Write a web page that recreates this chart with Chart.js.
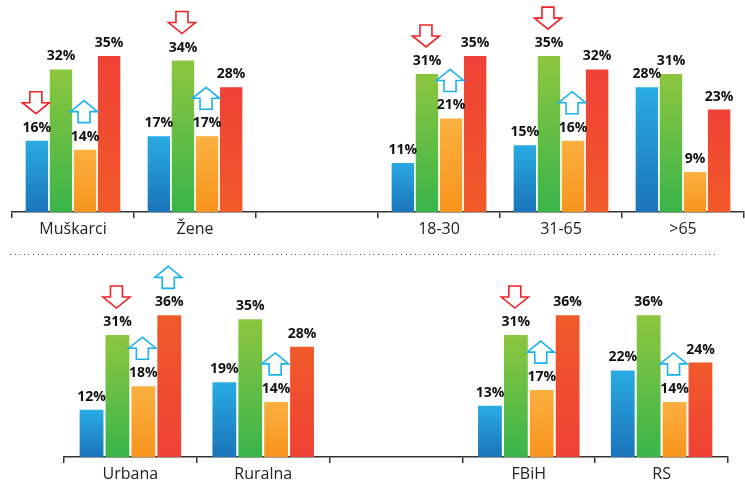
<!DOCTYPE html>
<html>
<head>
<meta charset="utf-8">
<script src="https://cdn.jsdelivr.net/npm/chart.js@4"></script>
<style>
  body { margin: 0; background: #fff; }
  #wrap { position: relative; width: 745px; height: 487px; }
  .panel { position: absolute; left: 0; width: 745px; }
  #topPanel { top: 0; height: 240px; }
  #bottomPanel { top: 254px; height: 233px; }
  #sep {
    position: absolute; left: 10px; top: 254px; width: 706px; height: 1px;
    background: repeating-linear-gradient(to right, #555 0 1px, transparent 1px 4.6px);
  }
</style>
</head>
<body>
<div id="wrap">
  <div class="panel" id="topPanel"><canvas id="topChart"></canvas></div>
  <div id="sep"></div>
  <div class="panel" id="bottomPanel"><canvas id="bottomChart"></canvas></div>
</div>
<script>
// top panel: gender and age
const topLabels = ['Muškarci', 'Žene', '', '18-30', '31-65', '>65'];
const topBlue   = [16, 17, null, 11, 15, 28];
const topGreen  = [32, 34, null, 31, 35, 31];
const topOrange = [14, 17, null, 21, 16, 9];
const topRed    = [35, 28, null, 35, 32, 23];
// arrows above bars (per series)
const topArrows = [
  ['down', null, null, null, null, null],
  [null, 'down', null, 'down', 'down', null],
  ['up', 'up', null, 'up', 'up', null],
  [null, null, null, null, null, null]
];

// bottom panel: settlement type and entity
const bottomLabels = ['Urbana', 'Ruralna', '', 'FBiH', 'RS'];
const bottomBlue   = [12, 19, null, 13, 22];
const bottomGreen  = [31, 35, null, 31, 36];
const bottomOrange = [18, 14, null, 17, 14];
const bottomRed    = [36, 28, null, 36, 24];
const bottomArrows = [
  [null, null, null, null, null],
  ['down', null, null, 'down', null],
  ['up', 'up', null, 'up', 'up'],
  ['up', null, null, null, null]
];

function barFill(top, bottom) {
  return (c) => {
    const chart = c.chart;
    if (!chart.chartArea || c.raw == null) return bottom;
    const y = chart.scales.y;
    const g = chart.ctx.createLinearGradient(0, y.getPixelForValue(c.raw), 0, y.getPixelForValue(0));
    g.addColorStop(0, top);
    g.addColorStop(1, bottom);
    return g;
  };
}

function drawArrow(ctx, cx, bottom, dir) {
  const w = 27, h = 22, shaft = 12, head = 11;
  const top = bottom - h;
  ctx.beginPath();
  if (dir === 'up') {
    ctx.moveTo(cx, top);
    ctx.lineTo(cx + w / 2, top + head);
    ctx.lineTo(cx + shaft / 2, top + head);
    ctx.lineTo(cx + shaft / 2, bottom);
    ctx.lineTo(cx - shaft / 2, bottom);
    ctx.lineTo(cx - shaft / 2, top + head);
    ctx.lineTo(cx - w / 2, top + head);
    ctx.strokeStyle = '#1ab1ee';
  } else {
    ctx.moveTo(cx - shaft / 2, top);
    ctx.lineTo(cx + shaft / 2, top);
    ctx.lineTo(cx + shaft / 2, bottom - head);
    ctx.lineTo(cx + w / 2, bottom - head);
    ctx.lineTo(cx, bottom);
    ctx.lineTo(cx - w / 2, bottom - head);
    ctx.lineTo(cx - shaft / 2, bottom - head);
    ctx.strokeStyle = '#ec2228';
  }
  ctx.closePath();
  ctx.fillStyle = '#fff';
  ctx.fill();
  ctx.lineWidth = 1.6;
  ctx.stroke();
}

const markerPlugin = {
  id: 'markers',
  afterDatasetsDraw(chart, args, opts) {
    const ctx = chart.ctx;
    chart.data.datasets.forEach((ds, di) => {
      const meta = chart.getDatasetMeta(di);
      meta.data.forEach((bar, i) => {
        const v = ds.data[i];
        if (v == null) return;
        ctx.save();
        const dir = opts.arrows[di][i];
        if (dir) drawArrow(ctx, bar.x - 1, bar.y - 27, dir);
        ctx.font = 'bold 14px "Open Sans"';
        ctx.fillStyle = '#111';
        ctx.textAlign = 'center';
        ctx.textBaseline = 'alphabetic';
        ctx.fillText(v + '%', bar.x, bar.y - 9);
        ctx.restore();
      });
    });
  }
};

function makeChart(id, labels, series, arrows, opts) {
  const fills = [
    ['#29abe2', '#1b74bb'],
    ['#8dc63f', '#39b54a'],
    ['#fbb040', '#f7941d'],
    opts.redFlip ? ['#f15a29', '#ef4136'] : ['#ef4136', '#f15a29']
  ];
  return new Chart(document.getElementById(id), {
    type: 'bar',
    data: {
      labels: labels,
      datasets: series.map((d, i) => ({
        data: d,
        backgroundColor: barFill(fills[i][0], fills[i][1]),
        borderWidth: 0,
        categoryPercentage: opts.catPct,
        barPercentage: opts.barPct
      }))
    },
    options: {
      responsive: true,
      maintainAspectRatio: false,
      animation: false,
      layout: { padding: { left: opts.left, right: opts.right, top: 0, bottom: 0 } },
      plugins: {
        legend: { display: false },
        tooltip: { enabled: false },
        markers: { arrows: arrows }
      },
      scales: {
        y: { display: false, min: 0, max: opts.max },
        x: {
          afterFit: (s) => { s.height = opts.axisH; },
          border: { display: true, color: '#333', width: 1.5 },
          grid: { offset: true, drawOnChartArea: false, drawTicks: true, tickLength: 6, color: '#333', lineWidth: 1.5 },
          ticks: {
            autoSkip: false, maxRotation: 0, padding: 2,
            color: '#222',
            font: { family: '"Open Sans"', size: 16 }
          }
        }
      }
    },
    plugins: [markerPlugin]
  });
}

makeChart('topChart', topLabels, [topBlue, topGreen, topOrange, topRed], topArrows,
  { left: 12, right: 1, max: 47.6, axisH: 28, catPct: 0.79, barPct: 0.93, redFlip: false });
makeChart('bottomChart', bottomLabels, [bottomBlue, bottomGreen, bottomOrange, bottomRed], bottomArrows,
  { left: 64, right: 17, max: 51.6, axisH: 30, catPct: 0.78, barPct: 0.92, redFlip: true });
</script>
</body>
</html>
